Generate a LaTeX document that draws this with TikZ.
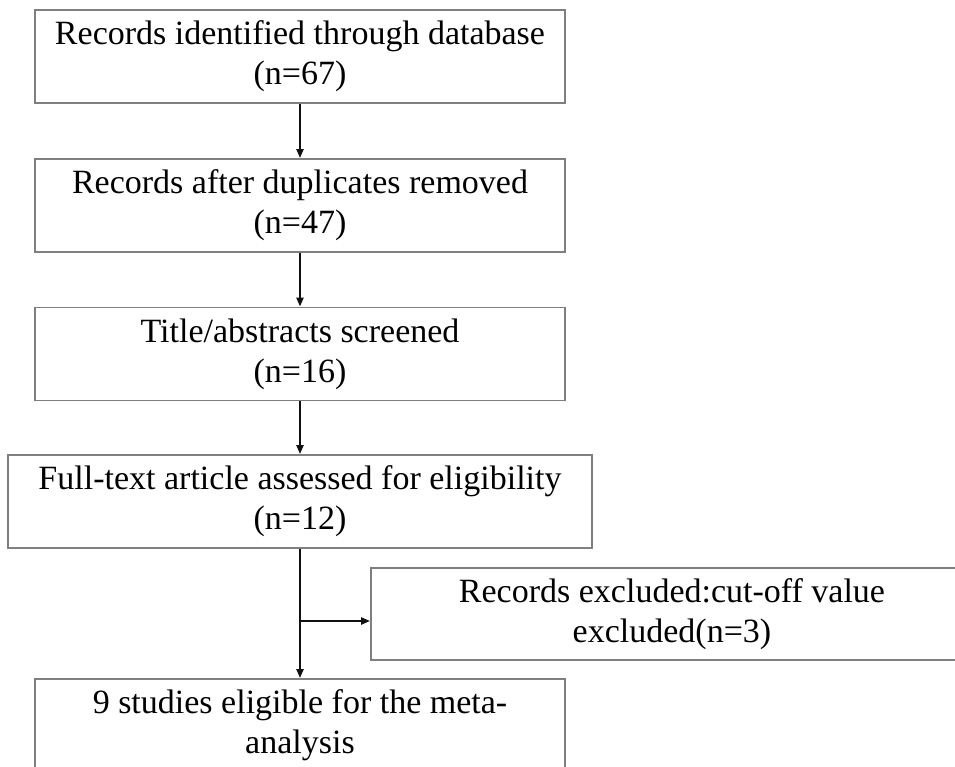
\documentclass[tikz,border=0pt]{standalone}
\usepackage{fontspec}
\setmainfont{Liberation Serif}
\usetikzlibrary{arrows.meta,positioning,calc}
\definecolor{bGrey}{HTML}{7F7F7F}
\definecolor{aBlack}{HTML}{111111}
\tikzset{
  box/.style  = {draw=bGrey, line width=1.8pt, fill=white, align=center,
                 font=\fontsize{34}{40}\selectfont, inner sep=0pt,
                 minimum width=530pt, minimum height=93pt},
  boxw/.style = {box, minimum width=584pt},
  arr/.style  = {-{Triangle[length=9pt,width=7pt]}, draw=aBlack, line width=2.2pt},
}
\begin{document}
\begin{tikzpicture}[x=1pt, y=-1pt]
  \useasboundingbox (0,0) rectangle (955,767);
  \clip (0,0) rectangle (955,767);
  % main column
  \node[box]  (rec)  at (300,56.5)  {Records identified through database\\(n=67)};
  \node[box]  (dup)  at (300,205.5) {Records after duplicates removed\\(n=47)};
  \node[box]  (scr)  at (300,354)   {Title/abstracts screened\\(n=16)};
  \node[boxw] (full) at (300,501.5) {Full-text article assessed for eligibility\\(n=12)};
  \node[box]  (elig) at (300,725.5) {9 studies eligible for the meta-\\analysis};
  % side box
  \node[box, minimum width=602pt, minimum height=92pt] (excl) at (672,614)
       {Records excluded:cut-off value\\excluded(n=3)};
  \coordinate (br) at (300,621);
  \draw[arr] (rec) -- (dup);
  \draw[arr] (dup) -- (scr);
  \draw[arr] (scr) -- (full);
  \draw[arr] (full) -- (elig);
  \draw[arr] (br) -- (br -| excl.west);
\end{tikzpicture}
\end{document}
